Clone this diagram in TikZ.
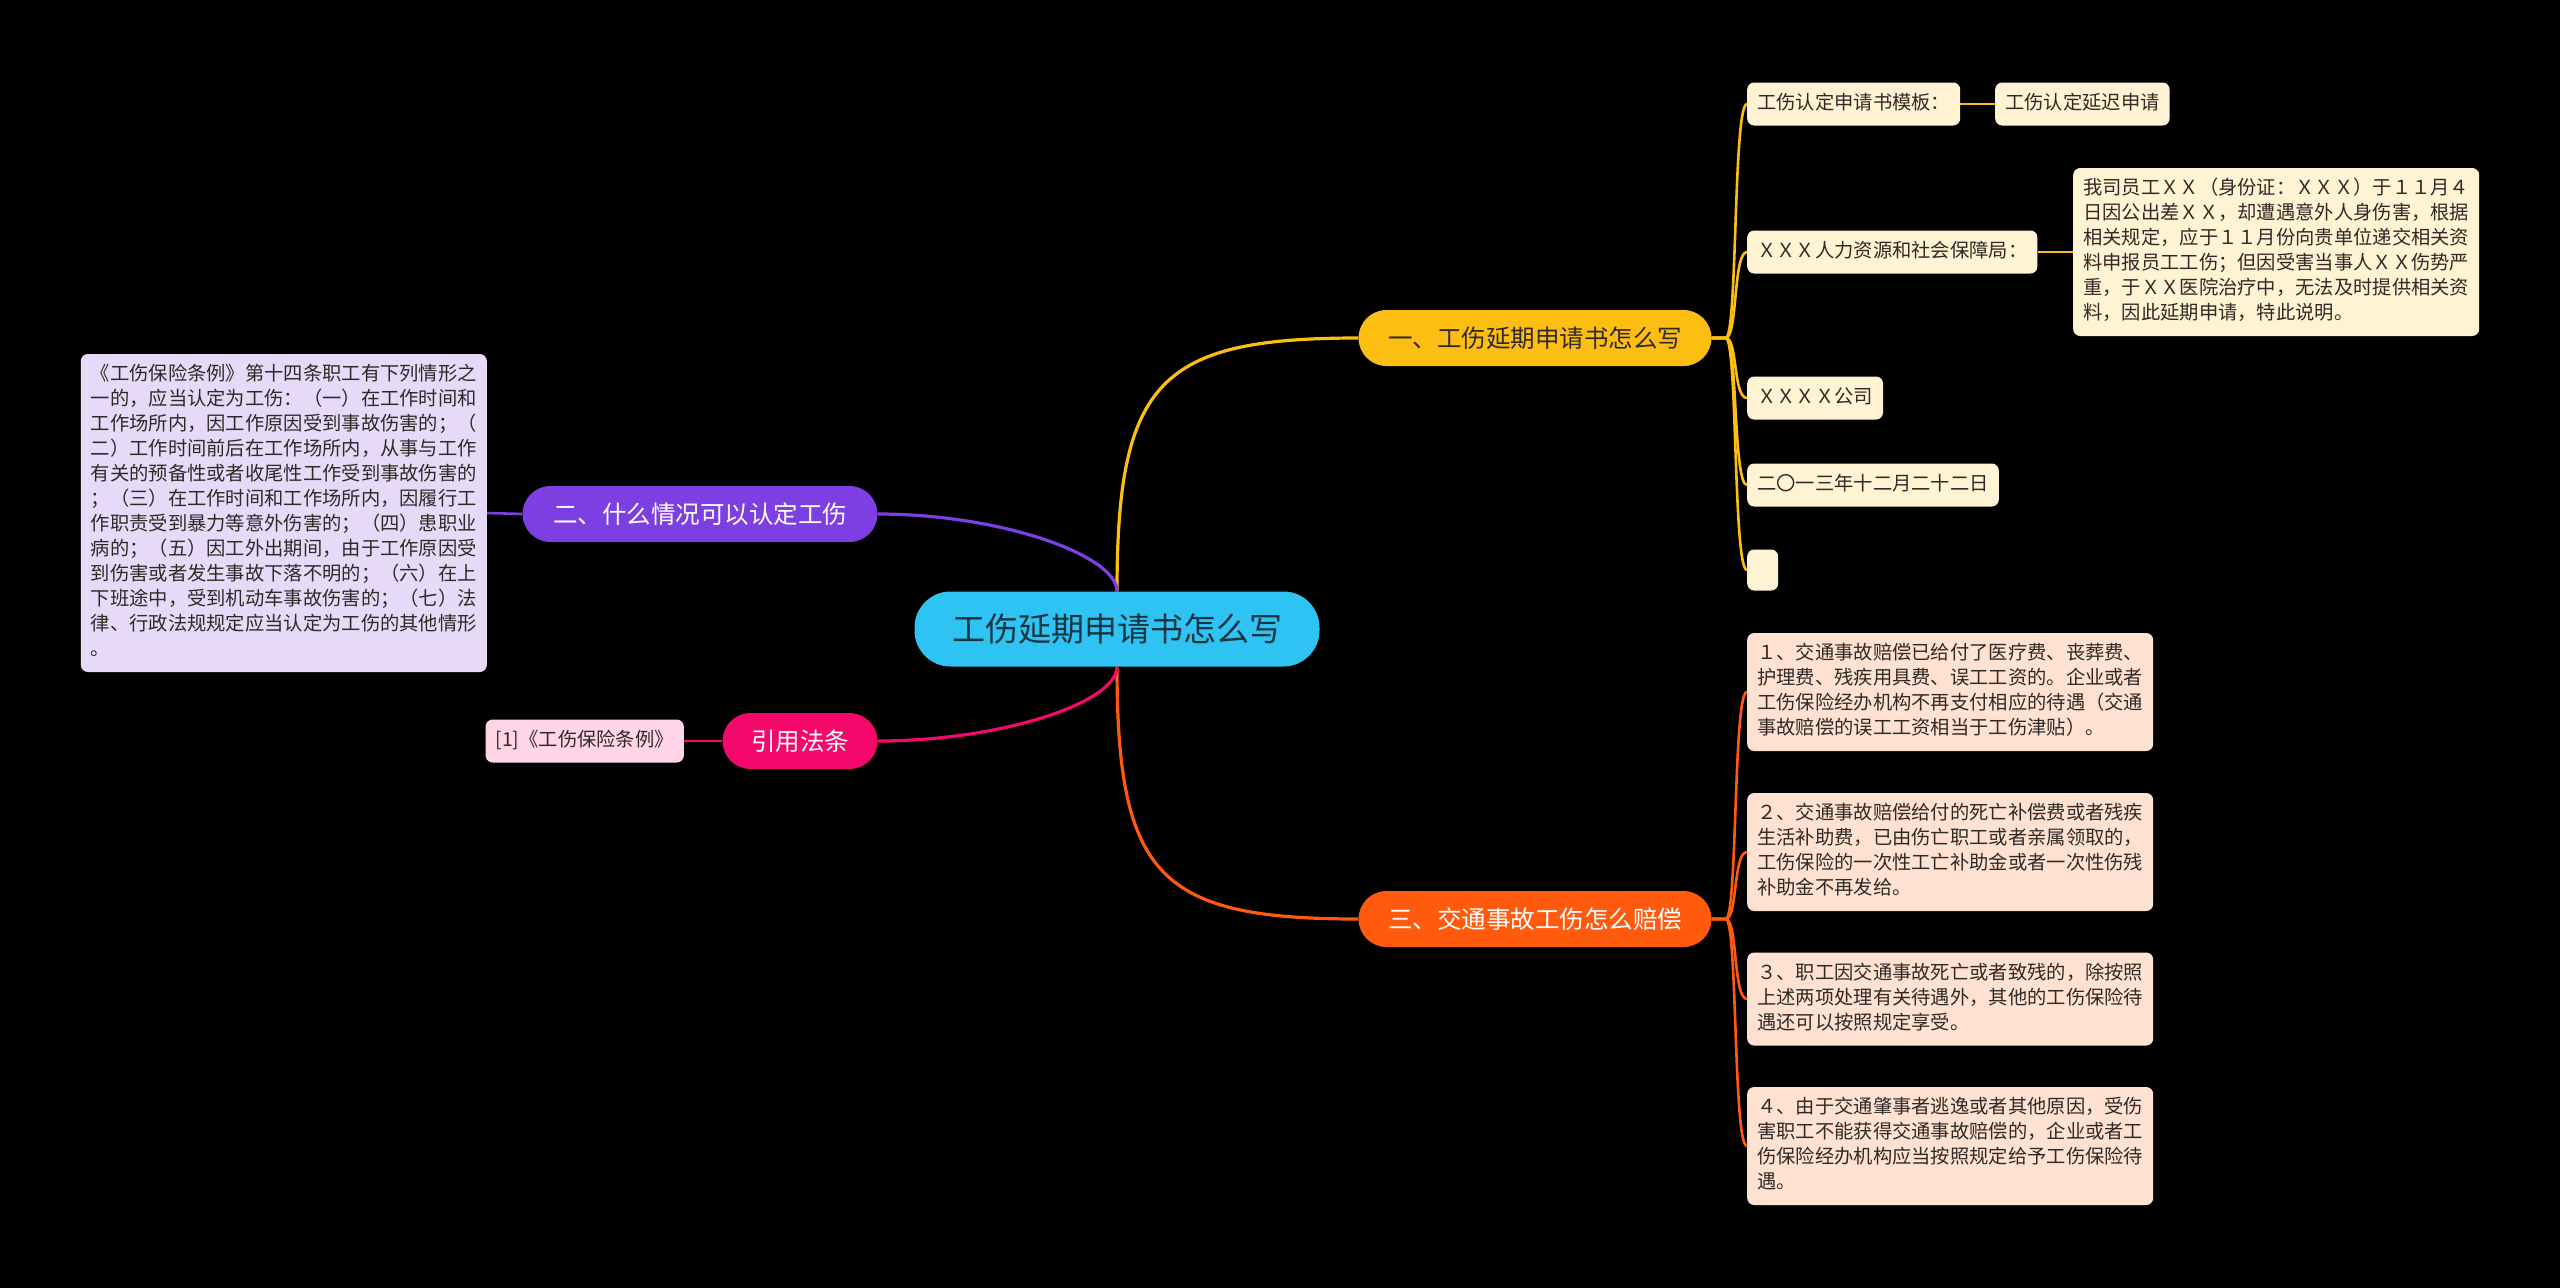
\documentclass[tikz,border=0pt]{standalone}
\usepackage{fontspec}
\setmainfont{Noto Sans CJK SC}
\definecolor{bg}{HTML}{000000}
\definecolor{ccen}{HTML}{2EC3F2}
\definecolor{cyel}{HTML}{FDBE14}
\definecolor{cora}{HTML}{FF5A0E}
\definecolor{cpur}{HTML}{7D3FE2}
\definecolor{cpnk}{HTML}{F5086C}
\definecolor{lyel}{HTML}{FFF3D3}
\definecolor{lora}{HTML}{FFE1D2}
\definecolor{lpur}{HTML}{E6DAF8}
\definecolor{lpnk}{HTML}{FFD4E6}
\definecolor{tdark}{HTML}{2F2A26}
\definecolor{tcen}{HTML}{163540}
\tikzset{
  leaf/.style={rounded corners=7pt, inner xsep=10pt, inner ysep=9pt, align=left,
    font=\fontsize{19.3}{25}\selectfont, text=tdark, anchor=west},
  branch/.style={rounded corners=28pt, minimum height=56pt, inner xsep=0pt,
    font=\fontsize{24.5}{28}\selectfont},
  conn/.style={line width=2.6pt},
  mconn/.style={line width=3.2pt}
}
\begin{document}
\begin{tikzpicture}[x=1pt,y=-1pt]
\fill[bg] (0,0) rectangle (2560,1288);
\useasboundingbox (0,0) rectangle (2560,1288);

% central
\node[fill=ccen, rounded corners=36pt, minimum width=405pt, minimum height=75pt,
  font=\fontsize{33}{36}\selectfont, text=tcen] (c) at (1117,629) {工伤延期申请书怎么写};

% branches
\node[branch, fill=cyel, minimum width=353pt, text=tdark] (b1) at (1535,338) {一、工伤延期申请书怎么写};
\node[branch, fill=cora, minimum width=353pt, text=white] (b3) at (1535,919) {三、交通事故工伤怎么赔偿};
\node[branch, fill=cpur, minimum width=355pt, text=white] (b2) at (700,514) {二、什么情况可以认定工伤};
\node[branch, fill=cpnk, minimum width=155pt, text=white] (b4) at (800,741) {引用法条};

% yellow leaves
\node[leaf, fill=lyel] (y1) at (1747,104) {\strut 工伤认定申请书模板：\strut};
\node[leaf, fill=lyel] (y1b) at (1995,104) {\strut 工伤认定延迟申请\strut};
\node[leaf, fill=lyel] (y2) at (1747,252) {\strut ＸＸＸ人力资源和社会保障局：\strut};
\node[leaf, fill=lyel] (y2b) at (2073,252) {\strut 我司员工ＸＸ（身份证：ＸＸＸ）于１１月４\\日因公出差ＸＸ，却遭遇意外人身伤害，根据\\相关规定，应于１１月份向贵单位递交相关资\\料申报员工工伤；但因受害当事人ＸＸ伤势严\\重，于ＸＸ医院治疗中，无法及时提供相关资\\料，因此延期申请，特此说明。\strut};
\node[leaf, fill=lyel] (y3) at (1747,398) {\strut ＸＸＸＸ公司\strut};
\node[leaf, fill=lyel] (y4) at (1747,485) {\strut 二〇一三年十二月二十二日\strut};
\node[leaf, fill=lyel, minimum width=31pt, minimum height=41pt, inner sep=0pt] (y5) at (1747,570) {};

% orange leaves
\node[leaf, fill=lora] (o1) at (1747,692) {\strut １、交通事故赔偿已给付了医疗费、丧葬费、\\护理费、残疾用具费、误工工资的。企业或者\\工伤保险经办机构不再支付相应的待遇（交通\\事故赔偿的误工工资相当于工伤津贴）。\strut};
\node[leaf, fill=lora] (o2) at (1747,852) {\strut ２、交通事故赔偿给付的死亡补偿费或者残疾\\生活补助费，已由伤亡职工或者亲属领取的，\\工伤保险的一次性工亡补助金或者一次性伤残\\补助金不再发给。\strut};
\node[leaf, fill=lora] (o3) at (1747,999) {\strut ３、职工因交通事故死亡或者致残的，除按照\\上述两项处理有关待遇外，其他的工伤保险待\\遇还可以按照规定享受。\strut};
\node[leaf, fill=lora] (o4) at (1747,1146) {\strut ４、由于交通肇事者逃逸或者其他原因，受伤\\害职工不能获得交通事故赔偿的，企业或者工\\伤保险经办机构应当按照规定给予工伤保险待\\遇。\strut};

% left leaves
\node[leaf, fill=lpur, anchor=east] (p1) at (487,513) {\strut 《工伤保险条例》第十四条职工有下列情形之\\一的，应当认定为工伤：（一）在工作时间和\\工作场所内，因工作原因受到事故伤害的；（\\二）工作时间前后在工作场所内，从事与工作\\有关的预备性或者收尾性工作受到事故伤害的\\；（三）在工作时间和工作场所内，因履行工\\作职责受到暴力等意外伤害的；（四）患职业\\病的；（五）因工外出期间，由于工作原因受\\到伤害或者发生事故下落不明的；（六）在上\\下班途中，受到机动车事故伤害的；（七）法\\律、行政法规规定应当认定为工伤的其他情形\\。\strut};
\node[leaf, fill=lpnk, anchor=east] (k1) at (684,741) {\strut [1]《工伤保险条例》\strut};

% main connectors
\draw[mconn, cyel] (c.north) .. controls +(0,-211) and +(-198,0) .. (b1.west);
\draw[mconn, cora] (c.south) .. controls +(0,211) and +(-198,0) .. (b3.west);
\draw[mconn, cpur] (c.north) .. controls +(0,-36) and +(123,0) .. (b2.east);
\draw[mconn, cpnk] (c.south) .. controls +(0,36) and +(123,0) .. (b4.east);

% yellow sub-connectors
\foreach \n in {y1,y2,y3,y4,y5}
  \draw[conn, cyel] (b1.east) -- ++(14,0) .. controls +(12,0) and +(-14,0) .. (\n.west);
\draw[conn, cyel] (y1.east) -- (y1b.west);
\draw[conn, cyel] (y2.east) -- (y2b.west);

% orange sub-connectors
\foreach \n in {o1,o2,o3,o4}
  \draw[conn, cora] (b3.east) -- ++(14,0) .. controls +(12,0) and +(-14,0) .. (\n.west);

% left connectors
\draw[conn, cpur] (b2.west) -- (p1.east);
\draw[conn, cpnk] (b4.west) -- (k1.east);
\end{tikzpicture}
\end{document}
